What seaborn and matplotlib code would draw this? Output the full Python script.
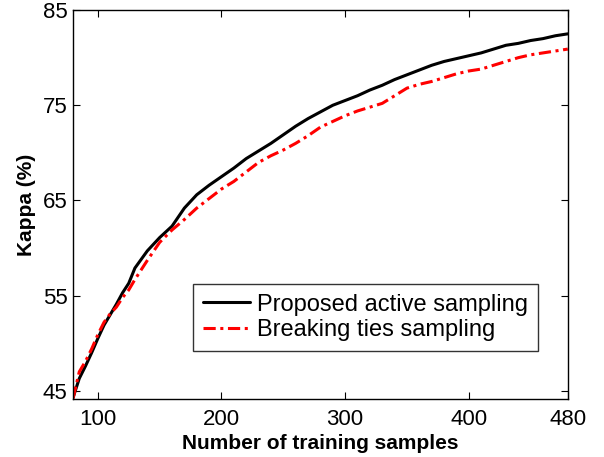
import numpy as np
import pandas as pd
import matplotlib
matplotlib.use("Agg")
import matplotlib.pyplot as plt
import seaborn as sns

# number of training samples
samples = [80, 85, 90, 95, 100, 105, 110, 115, 120, 125, 130,
           140, 150, 160, 170, 180, 190, 200, 210, 220, 230, 240, 250, 260,
           270, 280, 290, 300, 310, 320, 330, 340, 350, 360, 370, 380, 390,
           400, 410, 420, 430, 440, 450, 460, 470, 480]

# kappa (%) for each method
proposed = [44.3, 46.3, 47.6, 49.0, 50.5, 51.9, 53.0, 54.1, 55.3, 56.3, 57.9,
            59.7, 61.1, 62.3, 64.2, 65.6, 66.6, 67.5, 68.4, 69.4, 70.2, 71.0,
            71.9, 72.8, 73.6, 74.3, 75.0, 75.5, 76.0, 76.6, 77.1, 77.7, 78.2,
            78.7, 79.2, 79.6, 79.9, 80.2, 80.5, 80.9, 81.3, 81.5, 81.8, 82.0,
            82.3, 82.5]
breaking_ties = [44.2, 47.0, 48.1, 49.4, 50.9, 52.2, 53.1, 53.8, 54.8, 55.6,
                 56.7, 58.7, 60.6, 61.9, 63.0, 64.2, 65.2, 66.2, 67.0, 68.0,
                 69.0, 69.7, 70.3, 71.0, 71.8, 72.7, 73.3, 73.9, 74.4, 74.8,
                 75.2, 76.0, 76.8, 77.2, 77.5, 77.9, 78.3, 78.6, 78.8, 79.2,
                 79.6, 80.0, 80.3, 80.5, 80.7, 80.9]

labels = ["Proposed active sampling", "Breaking ties sampling"]

df = pd.DataFrame({
    "samples": samples * 2,
    "kappa": proposed + breaking_ties,
    "method": [labels[0]] * len(samples) + [labels[1]] * len(samples),
})

sns.set_style("white")
plt.rcParams["font.family"] = ["Liberation Sans", "DejaVu Sans"]
plt.rcParams["text.color"] = "black"
plt.rcParams["axes.labelcolor"] = "black"

fig = plt.figure(figsize=(6.04, 4.57), dpi=100)
ax = fig.add_axes([0.121, 0.127, 0.819, 0.851])

sns.lineplot(data=df, x="samples", y="kappa", hue="method", style="method",
             palette={labels[0]: "black", labels[1]: "red"},
             dashes={labels[0]: "", labels[1]: (4, 1.5, 1, 1.5)},
             linewidth=2.2, ax=ax)

ax.set_xlim(80, 480)
ax.set_ylim(44.15, 85)
ax.set_xticks([100, 200, 300, 400, 480])
ax.set_yticks([45, 55, 65, 75, 85])
ax.tick_params(direction="in", length=5, width=0.8, labelsize=16,
               top=True, right=True, bottom=True, left=True,
               colors="black", labelcolor="black")
ax.tick_params(axis="x", pad=7)
ax.tick_params(axis="y", pad=4)
for s in ax.spines.values():
    s.set_linewidth(1.0)
    s.set_color("black")

ax.set_xlabel("Number of training samples", fontsize=15, fontweight="bold",
              labelpad=3)
ax.set_ylabel("Kappa (%)", fontsize=15, fontweight="bold", labelpad=5)

leg = ax.legend(loc="lower right", bbox_to_anchor=(0.939, 0.124), fontsize=17,
                frameon=True, fancybox=False, edgecolor="black",
                handlelength=2.0, borderpad=0.4, labelspacing=0.15,
                handletextpad=0.3, borderaxespad=0)
leg.get_frame().set_linewidth(1.0)

fig.savefig("out.png", dpi=100)
